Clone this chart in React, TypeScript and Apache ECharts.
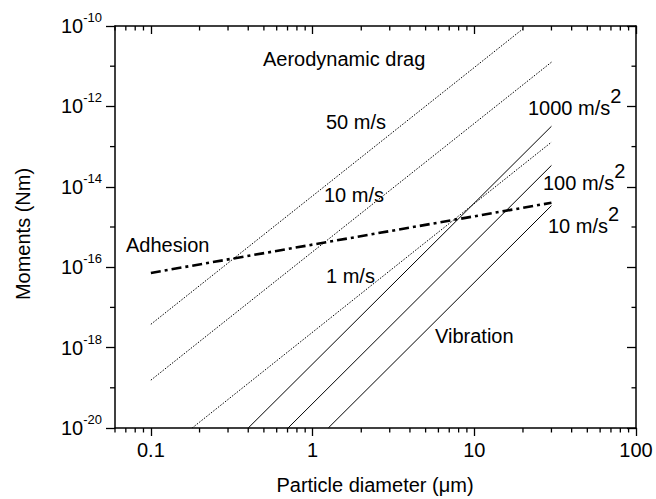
import React, { useEffect, useRef } from 'react';
import * as echarts from 'echarts';

const FONT = '"Liberation Sans", Arial, Helvetica, sans-serif';

// Tick values
const xMajor = [0.1, 1, 10, 100];
const xMinor = [0.06, 0.07, 0.08, 0.09, 0.2, 0.3, 0.4, 0.5, 0.6, 0.7, 0.8, 0.9, 2, 3, 4, 5, 6, 7, 8, 9, 20, 30, 40, 50, 60, 70, 80, 90];
const yMajor = [1e-20, 1e-18, 1e-16, 1e-14, 1e-12, 1e-10];
const yMinor = [1e-19, 1e-17, 1e-15, 1e-13, 1e-11];

const X_MIN = 0.06;
const X_MAX = 100;
const Y_MIN = 1e-20;
const Y_MAX = 1e-10;

// Series (particle diameter in um, moment in Nm)
const drag50 = [[0.1, 3.8e-18], [20, 8.5e-11]];
const drag10 = [[0.1, 1.55e-19], [30, 1.26e-11]];
const drag1 = [[0.18, 1e-20], [30, 1.29e-13]];
const vib1000 = [[0.4, 1e-20], [30, 3.2e-13]];
const vib100 = [[0.705, 1e-20], [30, 3.4e-14]];
const vib10 = [[1.25, 1e-20], [30, 3.4e-15]];
const adhesion = [[0.1, 7.2e-17], [30, 4e-15]];

const lineStyleAxis = { color: '#000', width: 1.5 };
const tickStyle = { stroke: '#000', lineWidth: 1.3 };

function xAx(position: string, len: number, inside: boolean, labels: boolean) {
  return {
    type: 'log',
    position,
    min: X_MIN,
    max: X_MAX,
    splitLine: { show: false },
    axisLine: { show: true, onZero: false, lineStyle: lineStyleAxis },
    axisTick: { show: true, inside, length: len, customValues: xMajor, lineStyle: { color: '#000', width: 1.3 } },
    axisLabel: labels
      ? {
          show: true,
          customValues: xMajor,
          margin: 12,
          fontSize: 20,
          fontFamily: FONT,
          color: '#000',
          formatter: (v: number) => (Math.abs(v - X_MIN) < 1e-6 ? '' : String(+Number(v).toPrecision(3))),
        }
      : { show: false },
  };
}

function yAx(position: string, len: number, inside: boolean, labels: boolean) {
  return {
    type: 'log',
    position,
    min: Y_MIN,
    max: Y_MAX,
    splitLine: { show: false },
    axisLine: { show: true, onZero: false, lineStyle: lineStyleAxis },
    axisTick: { show: true, inside, length: len, customValues: yMajor, lineStyle: { color: '#000', width: 1.3 } },
    axisLabel: labels
      ? {
          show: true,
          customValues: yMajor,
          margin: 13,
          color: '#000',
          fontFamily: FONT,
          formatter: (v: number) => `{b|10}{s|${Math.round(Math.log10(v))}}`,
          rich: {
            b: { fontSize: 20, lineHeight: 30, fontFamily: FONT, color: '#000' },
            s: { fontSize: 13, lineHeight: 13, verticalAlign: 'top', fontFamily: FONT, color: '#000' },
          },
        }
      : { show: false },
  };
}

// Minor ticks drawn through the axes' scales
function xMinorTicks() {
  return {
    type: 'custom',
    name: 'xMinorTicks',
    xAxisIndex: 0,
    yAxisIndex: 0,
    silent: true,
    clip: false,
    z: 5,
    data: xMinor.map((v) => [v, Y_MIN]),
    renderItem: (_p: any, api: any) => {
      const b = api.coord([api.value(0), Y_MIN]);
      const t = api.coord([api.value(0), Y_MAX]);
      return {
        type: 'group',
        children: [
          { type: 'line', shape: { x1: b[0], y1: b[1], x2: b[0], y2: b[1] + 4.5 }, style: tickStyle },
          { type: 'line', shape: { x1: t[0], y1: t[1], x2: t[0], y2: t[1] + 4.5 }, style: tickStyle },
        ],
      };
    },
  };
}

function yMinorTicks() {
  return {
    type: 'custom',
    name: 'yMinorTicks',
    xAxisIndex: 0,
    yAxisIndex: 0,
    silent: true,
    clip: false,
    z: 5,
    data: yMinor.map((v) => [X_MIN, v]),
    renderItem: (_p: any, api: any) => {
      const l = api.coord([X_MIN, api.value(1)]);
      const r = api.coord([X_MAX, api.value(1)]);
      return {
        type: 'group',
        children: [
          { type: 'line', shape: { x1: l[0], y1: l[1], x2: l[0] - 5, y2: l[1] }, style: tickStyle },
          { type: 'line', shape: { x1: r[0], y1: r[1], x2: r[0] - 4.5, y2: r[1] }, style: tickStyle },
        ],
      };
    },
  };
}

function txt(x: number, y: number, text: string) {
  return {
    type: 'text',
    x,
    y,
    style: { text, fontSize: 20, fontFamily: FONT, fill: '#000', verticalAlign: 'middle', align: 'left' },
  };
}

function supTxt(x: number, y: number, base: string, sup: string) {
  return {
    type: 'text',
    x,
    y,
    style: {
      text: `{b|${base}}{s|${sup}}`,
      fontFamily: FONT,
      fill: '#000',
      verticalAlign: 'middle',
      align: 'left',
      rich: {
        b: { fontSize: 20, lineHeight: 44, fontFamily: FONT, fill: '#000' },
        s: { fontSize: 20, lineHeight: 20, verticalAlign: 'top', fontFamily: FONT, fill: '#000' },
      },
    },
  };
}

function lineSeries(name: string, data: number[][], style: any) {
  return {
    name,
    type: 'line',
    xAxisIndex: 0,
    yAxisIndex: 0,
    data,
    symbol: 'none',
    silent: true,
    clip: true,
    lineStyle: style,
  };
}

export default function App() {
  const ref = useRef<HTMLDivElement>(null);
  useEffect(() => {
    document.body.style.margin = '0';
    if (!ref.current) return;
    const chart = echarts.init(ref.current, undefined, { renderer: 'svg' });
    const dotted = { color: '#000', width: 1, type: [1.5, 1.5] };
    const solid = { color: '#000', width: 1, type: 'solid' };
    chart.setOption({
      animation: false,
      backgroundColor: '#fff',
      grid: { left: 115, right: 20, top: 26, bottom: 71 },
      xAxis: [xAx('bottom', 8, false, true), xAx('top', 8, true, false)],
      yAxis: [yAx('left', 9, false, true), yAx('right', 9, true, false)],
      series: [
        lineSeries('50 m/s', drag50, dotted),
        lineSeries('10 m/s', drag10, dotted),
        lineSeries('1 m/s', drag1, dotted),
        lineSeries('1000 m/s2', vib1000, solid),
        lineSeries('100 m/s2', vib100, solid),
        lineSeries('10 m/s2', vib10, solid),
        lineSeries('Adhesion', adhesion, { color: '#000', width: 2.6, type: [10, 4, 3, 4] }),
        xMinorTicks(),
        yMinorTicks(),
      ],
      graphic: [
        txt(263, 59, 'Aerodynamic drag'),
        txt(326, 122, '50 m/s'),
        txt(324, 195, '10 m/s'),
        txt(326, 276, '1 m/s'),
        txt(126, 245, 'Adhesion'),
        txt(435, 336, 'Vibration'),
        supTxt(528, 108, '1000 m/s', '2'),
        supTxt(543, 183, '100 m/s', '2'),
        supTxt(548, 226, '10 m/s', '2'),
        {
          type: 'text',
          x: 375,
          y: 485,
          style: { text: 'Particle diameter (\u03bcm)', fontSize: 20, fontFamily: FONT, fill: '#000', align: 'center', verticalAlign: 'middle' },
        },
        {
          type: 'text',
          x: 23,
          y: 234,
          rotation: Math.PI / 2,
          style: { text: 'Moments (Nm)', fontSize: 20, fontFamily: FONT, fill: '#000', align: 'center', verticalAlign: 'middle' },
        },
      ],
    });
    return () => chart.dispose();
  }, []);
  return <div ref={ref} style={{ width: 656, height: 499 }} />;
}
